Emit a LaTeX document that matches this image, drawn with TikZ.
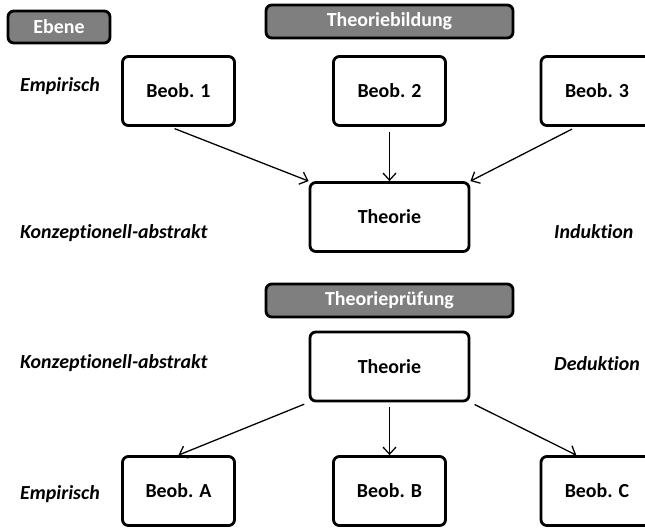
\documentclass[tikz,border=0pt]{standalone}
\usepackage{fontspec}
\setmainfont{Carlito}[Ligatures=NoCommon]
\usetikzlibrary{arrows.meta}
\definecolor{headgray}{RGB}{127,127,127}

\begin{document}
\begin{tikzpicture}[x=0.03cm, y=-0.03cm,
  box/.style={draw, line width=2.4pt, rounded corners=5pt, fill=white, inner sep=0pt,
    font=\fontsize{17}{20}\selectfont\bfseries, minimum width=3.36cm, minimum height=2.07cm},
  head/.style={draw, line width=2.4pt, rounded corners=5pt, fill=headgray, text=white, inner sep=0pt,
    font=\fontsize{17}{20}\selectfont\bfseries, minimum width=7.41cm, minimum height=0.99cm},
  lvl/.style={anchor=west, inner sep=0pt, font=\fontsize{17}{20}\selectfont\bfseries\itshape},
  pfeil/.style={-{Straight Barb[length=6pt,width=11pt]}, line width=1.1pt, shorten <=4pt}]
\useasboundingbox (0,0) rectangle (645,527);

% Ueberschriften
\node[head, minimum width=3.06cm, minimum height=0.96cm] (ebene) at (59,27) {Ebene};
\node[head] (bildung) at (389.5,21.5) {Theoriebildung};
\node[head] (pruefung) at (389.5,300.5) {Theorieprüfung};

% Theoriebildung
\node[box] (b1) at (178.5,91) {Beob. 1};
\node[box] (b2) at (389.5,91) {Beob. 2};
\node[box] (b3) at (597,91) {Beob. 3};
\node[box, minimum width=4.77cm] (t1) at (389.5,217) {Theorie};
\draw[pfeil] (b1.-103) -- (t1.north west);
\draw[pfeil] (b2.south) -- (t1.north);
\draw[pfeil] (b3.-120) -- (t1.north east);

% Theoriepruefung
\node[box, minimum width=4.77cm] (t2) at (389.5,366.5) {Theorie};
\node[box] (ba) at (178.5,491) {Beob. A};
\node[box] (bb) at (389.5,491) {Beob. B};
\node[box] (bc) at (597,491) {Beob. C};
\draw[pfeil] (t2.south west) -- (ba.north);
\draw[pfeil] (t2.south) -- (bb.north);
\draw[pfeil] (t2.south east) -- (bc.120);

% Ebenen
\node[lvl] (emp1) at (20,86) {Empirisch};
\node[lvl] (konz1) at (20,233) {Konzeptionell-abstrakt};
\node[lvl] (ind) at (554,232) {Induktion};
\node[lvl] (konz2) at (20,363) {Konzeptionell-abstrakt};
\node[lvl] (ded) at (554,364) {Deduktion};
\node[lvl] (emp2) at (20,494) {Empirisch};
\end{tikzpicture}
\end{document}
